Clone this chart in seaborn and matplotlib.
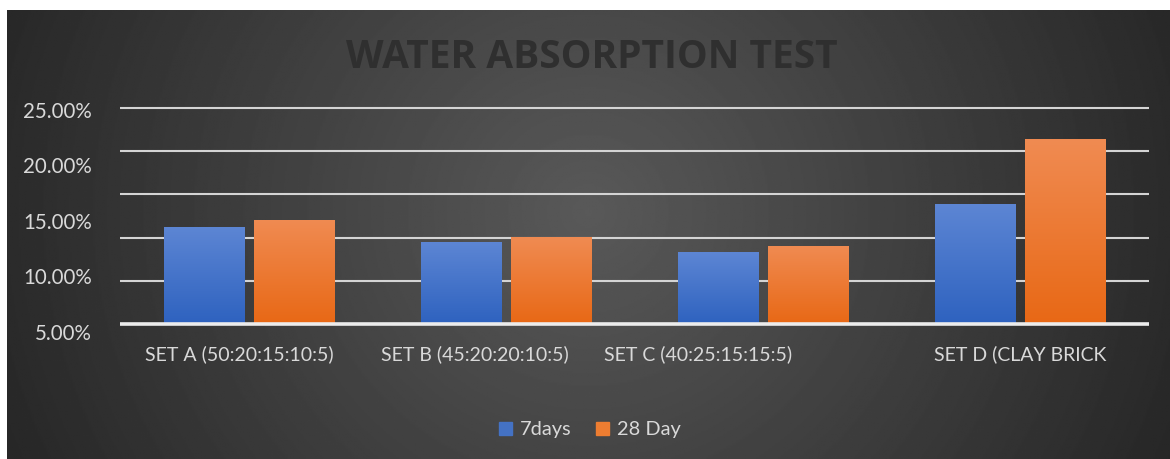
import numpy as np
import pandas as pd
import matplotlib
matplotlib.use('Agg')
import matplotlib.pyplot as plt
import matplotlib.transforms as mtransforms
from matplotlib.colors import LinearSegmentedColormap
from matplotlib.patches import Patch
import seaborn as sns

categories = ['SET A (50:20:15:10:5)', 'SET B (45:20:20:10:5)',
              'SET C (40:25:15:15:5)', 'SET D (CLAY BRICK']
days7 = [11.26, 9.52, 8.33, 13.90]
days28 = [12.04, 10.03, 9.03, 21.40]
series = ['7days', '28 Day']
label_ticks = [5, 10, 15, 20, 25]
grid_ticks = [0, 5, 10, 15, 20, 25]

df = pd.DataFrame({
    'set': categories * 2,
    'period': [series[0]] * len(categories) + [series[1]] * len(categories),
    'value': days7 + days28,
})

sns.set_theme(style='white')
plt.rcParams['font.family'] = ['Lato', 'DejaVu Sans']

W, H = 1170, 459
fig = plt.figure(figsize=(W / 100, H / 100), dpi=100, facecolor='white')

# dark radial background of the chart area
bg = fig.add_axes([7 / W, 0, 1 - 7 / W, (H - 10) / H])
bg.set_axis_off()
yy, xx = np.mgrid[0:1:300j, 0:1:800j]
d = np.sqrt(((xx - 0.5) / 0.5) ** 2 + (0.4 * (yy - 0.55) / 0.5) ** 2)
g = np.clip(89 - 46 * d, 32, 90) / 255
bg.imshow(g, cmap='gray', vmin=0, vmax=1, aspect='auto',
          extent=[0, 1, 0, 1], origin='lower')

blue, orange = '#4472C4', '#ED7D31'
grads = [('#2E62BF', '#5D86D4'), ('#E86815', '#F08B52')]

ax = fig.add_axes([120 / W, (H - 340) / H, 1029 / W, 240 / H])
ax.patch.set_alpha(0)
sns.barplot(data=df, x='set', y='value', hue='period',
            palette={series[0]: blue, series[1]: orange},
            width=0.7, gap=0.11, legend=False, ax=ax, zorder=3)

for container, (c_bot, c_top) in zip(ax.containers, grads):
    cm = LinearSegmentedColormap.from_list('g', [c_bot, c_top])
    for bar in container:
        x0, y0 = bar.get_x(), bar.get_y()
        w, h = bar.get_width(), bar.get_height()
        im = ax.imshow(np.linspace(0, 1, 256).reshape(-1, 1), cmap=cm,
                       aspect='auto', extent=[x0, x0 + w, y0, y0 + h],
                       origin='lower', zorder=3)
        im.set_clip_path(bar)
        bar.set_facecolor('none')
        bar.set_edgecolor('none')

ax.set_xlim(-0.5, len(categories) - 0.5)
ax.set_ylim(-16 / 8.64, 224 / 8.64)
ax.set_yticks(grid_ticks)
ax.yaxis.grid(True, color='#d4d4d4', lw=1.5)
ax.set_axisbelow(True)
ax.axhline(0, color='#ececec', lw=2.6, zorder=4)
for s in ax.spines.values():
    s.set_visible(False)
ax.set_xlabel('')
ax.set_ylabel('')
ax.tick_params(axis='y', labelleft=False, length=0)
ax.tick_params(axis='x', length=0, pad=4, labelsize=14, labelcolor='#d9d9d9')

label_shift = [-9, -31, -65, 0]
for lab, dx in zip(ax.get_xticklabels(), label_shift):
    lab.set_transform(lab.get_transform() +
                      mtransforms.ScaledTranslation(dx / 100, 0, fig.dpi_scale_trans))

# value labels of the axis
ax2 = ax.twinx()
ax2.set_ylim(5 - 8 / 11.1, 5 + 232 / 11.1)
ax2.set_yticks(label_ticks)
ax2.yaxis.set_major_formatter(lambda v, p: f'{v:.2f}%')
ax2.yaxis.tick_left()
ax2.tick_params(axis='y', length=0, pad=20, labelsize=14.8, labelcolor='#d9d9d9')
for s in ax2.spines.values():
    s.set_visible(False)

fig.legend(handles=[Patch(color=blue), Patch(color=orange)], labels=series,
           loc='center', bbox_to_anchor=(590 / W, 1 - 430 / H), ncol=2,
           frameon=False, fontsize=14.4, labelcolor='#d9d9d9',
           handlelength=0.65, handleheight=0.65, handletextpad=0.4,
           columnspacing=1.2)

fig.text(592 / W, 1 - 57 / H, 'WATER ABSORPTION TEST', ha='center', va='center',
         fontsize=28, fontweight='bold', color='#2f2f2f',
         family=['Open Sans', 'DejaVu Sans'])

fig.savefig('out.png', dpi=100, facecolor='white')
